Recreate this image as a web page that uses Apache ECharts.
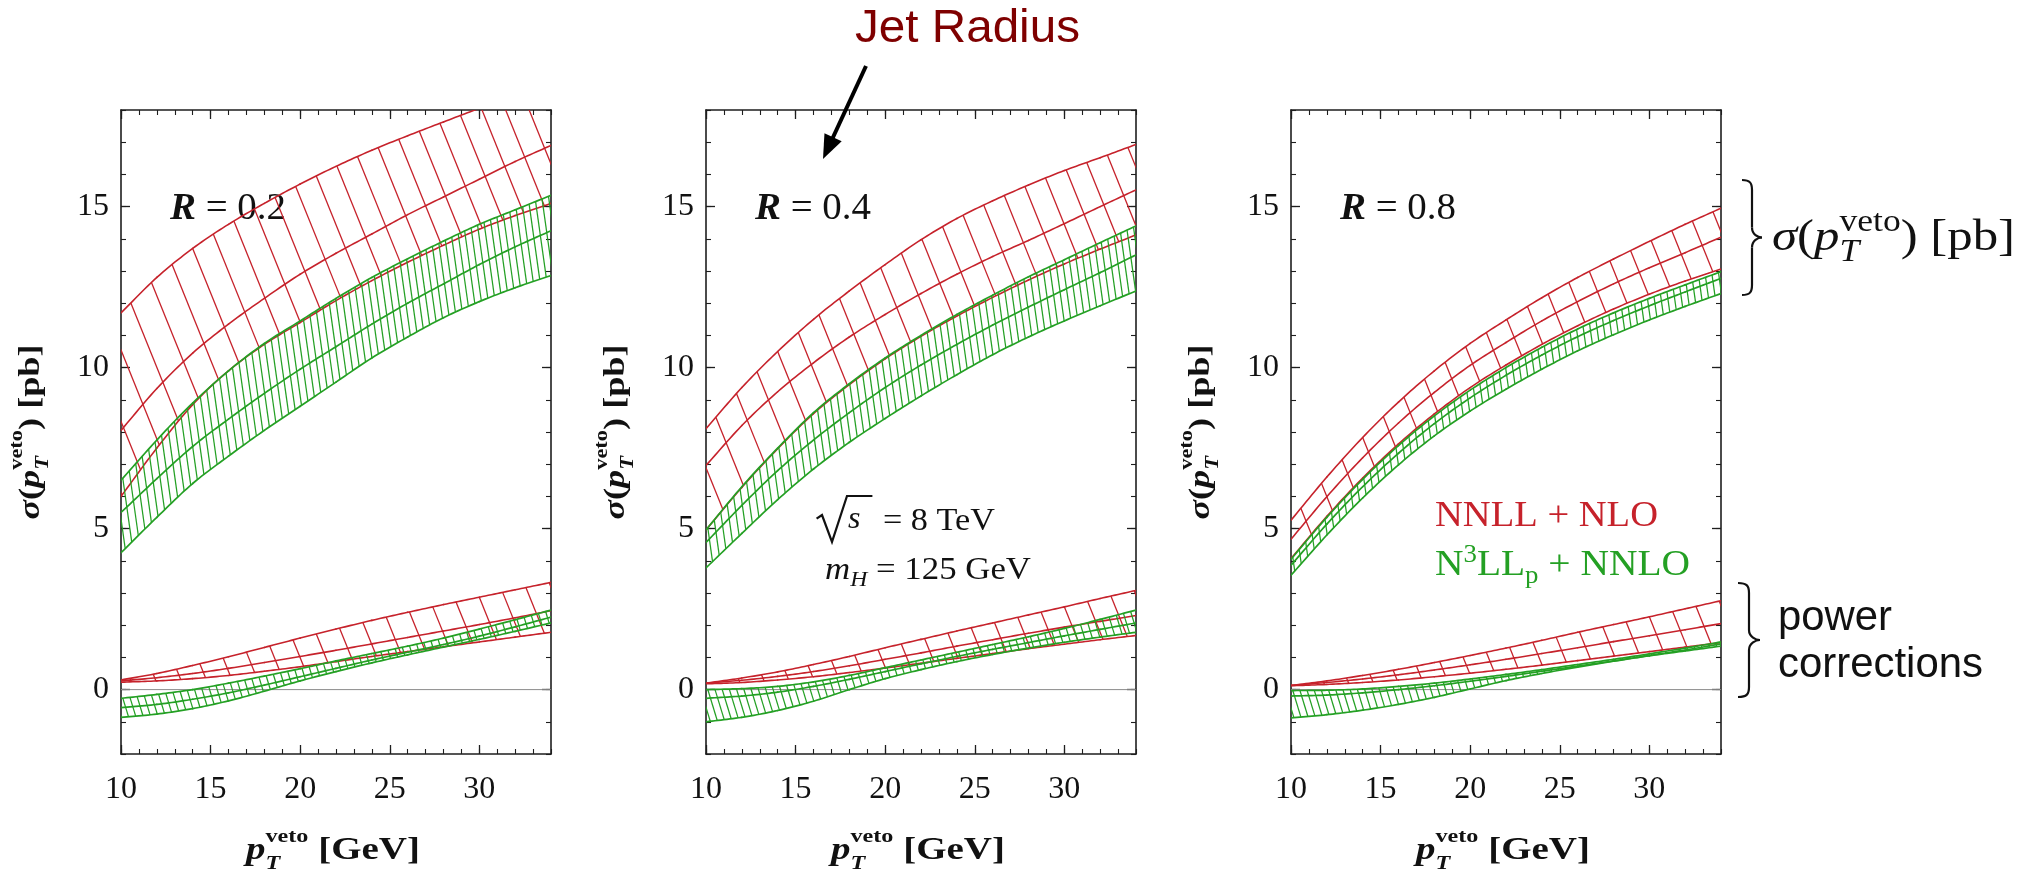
<!DOCTYPE html>
<html>
<head>
<meta charset="utf-8">
<script src="https://cdn.jsdelivr.net/npm/echarts@6/dist/echarts.min.js"></script>
<style>
html,body{margin:0;padding:0;background:#ffffff;}
#chart{width:2026px;height:875px;}
</style>
</head>
<body>
<div id="chart"></div>
<script>
// ---------------- DATA ----------------
const pT = [10, 12, 14, 16, 18, 20, 22, 24, 26, 28, 30, 32, 34];
const xTickLabels = [10, 15, 20, 25, 30];
const yTickLabels = [0, 5, 10, 15];

// R = 0.2
const r02_nnll_hi  = [11.7, 12.8, 13.7, 14.45, 15.1, 15.7, 16.25, 16.75, 17.2, 17.63, 18.05, 18.45, 18.82];
const r02_nnll_mid = [8.05, 9.35, 10.45, 11.35, 12.15, 12.9, 13.55, 14.15, 14.75, 15.3, 15.85, 16.4, 16.9];
const r02_nnll_lo  = [6.0, 7.5, 8.85, 9.9, 10.72, 11.4, 12.08, 12.7, 13.27, 13.8, 14.3, 14.72, 15.1];
const r02_n3ll_hi  = [6.5, 7.75, 8.9, 9.9, 10.75, 11.45, 12.15, 12.8, 13.38, 13.93, 14.45, 14.9, 15.35];
const r02_n3ll_mid = [5.5, 6.55, 7.55, 8.4, 9.2, 9.95, 10.65, 11.35, 12.0, 12.6, 13.2, 13.75, 14.25];
const r02_n3ll_lo  = [4.25, 5.35, 6.4, 7.25, 8.05, 8.8, 9.55, 10.3, 10.95, 11.55, 12.05, 12.48, 12.86];
const r02_pc_nnll_hi  = [0.3, 0.5, 0.75, 1.02, 1.31, 1.6, 1.88, 2.15, 2.4, 2.64, 2.87, 3.1, 3.33];
const r02_pc_nnll_mid = [0.27, 0.37, 0.5, 0.66, 0.84, 1.03, 1.22, 1.42, 1.62, 1.82, 2.02, 2.23, 2.45];
const r02_pc_nnll_lo  = [0.23, 0.27, 0.34, 0.44, 0.57, 0.71, 0.87, 1.03, 1.18, 1.33, 1.48, 1.63, 1.78];
const r02_pc_n3ll_hi  = [-0.27, -0.15, 0.0, 0.2, 0.42, 0.65, 0.89, 1.12, 1.35, 1.6, 1.88, 2.17, 2.47];
const r02_pc_n3ll_mid = [-0.56, -0.46, -0.3, -0.1, 0.14, 0.4, 0.66, 0.92, 1.16, 1.4, 1.66, 1.95, 2.25];
const r02_pc_n3ll_lo  = [-0.86, -0.76, -0.59, -0.35, -0.05, 0.27, 0.56, 0.83, 1.08, 1.32, 1.56, 1.81, 2.07];

// R = 0.4
const r04_nnll_hi  = [8.1, 9.38, 10.5, 11.5, 12.38, 13.2, 13.97, 14.63, 15.18, 15.67, 16.12, 16.52, 16.93];
const r04_nnll_mid = [6.96, 8.2, 9.25, 10.15, 10.95, 11.65, 12.3, 12.9, 13.45, 13.95, 14.47, 15.0, 15.52];
const r04_nnll_lo  = [4.96, 6.28, 7.48, 8.57, 9.47, 10.27, 10.97, 11.6, 12.18, 12.72, 13.22, 13.68, 14.12];
const r04_n3ll_hi  = [4.96, 6.3, 7.5, 8.6, 9.5, 10.3, 11.0, 11.65, 12.25, 12.82, 13.35, 13.88, 14.4];
const r04_n3ll_mid = [4.57, 5.72, 6.8, 7.75, 8.6, 9.38, 10.08, 10.72, 11.32, 11.88, 12.42, 12.95, 13.5];
const r04_n3ll_lo  = [3.78, 4.85, 5.9, 6.85, 7.68, 8.42, 9.12, 9.78, 10.4, 10.95, 11.45, 11.92, 12.38];
const r04_pc_nnll_hi  = [0.2, 0.36, 0.55, 0.78, 1.03, 1.3, 1.56, 1.82, 2.07, 2.32, 2.57, 2.83, 3.08];
const r04_pc_nnll_mid = [0.2, 0.29, 0.41, 0.56, 0.74, 0.94, 1.14, 1.35, 1.55, 1.75, 1.94, 2.12, 2.3];
const r04_pc_nnll_lo  = [0.18, 0.22, 0.3, 0.4, 0.53, 0.67, 0.82, 0.97, 1.12, 1.27, 1.41, 1.55, 1.68];
const r04_pc_n3ll_hi  = [0.0, 0.03, 0.1, 0.24, 0.44, 0.68, 0.92, 1.16, 1.4, 1.64, 1.9, 2.18, 2.47];
const r04_pc_n3ll_mid = [-0.27, -0.2, -0.08, 0.1, 0.32, 0.56, 0.8, 1.03, 1.25, 1.46, 1.67, 1.87, 2.07];
const r04_pc_n3ll_lo  = [-1.0, -0.86, -0.65, -0.36, 0.0, 0.34, 0.62, 0.87, 1.09, 1.29, 1.47, 1.63, 1.78];

// R = 0.8
const r08_nnll_hi  = [5.26, 6.6, 7.83, 8.93, 9.9, 10.75, 11.48, 12.17, 12.8, 13.37, 13.92, 14.45, 14.95];
const r08_nnll_mid = [4.67, 5.99, 7.2, 8.28, 9.23, 10.07, 10.78, 11.45, 12.05, 12.6, 13.1, 13.57, 14.05];
const r08_nnll_lo  = [4.07, 5.38, 6.57, 7.63, 8.56, 9.38, 10.08, 10.72, 11.3, 11.82, 12.28, 12.69, 13.06];
const r08_n3ll_hi  = [4.05, 5.35, 6.53, 7.58, 8.5, 9.3, 10.0, 10.63, 11.2, 11.7, 12.15, 12.57, 12.98];
const r08_n3ll_mid = [3.86, 5.14, 6.3, 7.34, 8.26, 9.06, 9.76, 10.39, 10.96, 11.46, 11.92, 12.35, 12.77];
const r08_n3ll_lo  = [3.55, 4.8, 5.95, 6.98, 7.88, 8.65, 9.33, 9.95, 10.52, 11.02, 11.48, 11.9, 12.3];
const r08_pc_nnll_hi  = [0.13, 0.27, 0.44, 0.63, 0.84, 1.06, 1.29, 1.53, 1.78, 2.02, 2.26, 2.51, 2.76];
const r08_pc_nnll_mid = [0.13, 0.22, 0.33, 0.46, 0.61, 0.77, 0.94, 1.12, 1.3, 1.49, 1.67, 1.86, 2.05];
const r08_pc_nnll_lo  = [0.12, 0.16, 0.22, 0.3, 0.4, 0.51, 0.63, 0.76, 0.9, 1.04, 1.18, 1.32, 1.46];
const r08_pc_n3ll_hi  = [-0.03, -0.02, 0.02, 0.1, 0.2, 0.33, 0.47, 0.62, 0.78, 0.94, 1.11, 1.29, 1.48];
const r08_pc_n3ll_mid = [-0.2, -0.17, -0.1, 0.0, 0.12, 0.26, 0.41, 0.57, 0.73, 0.89, 1.06, 1.23, 1.42];
const r08_pc_n3ll_lo  = [-0.88, -0.78, -0.64, -0.46, -0.24, 0.02, 0.28, 0.5, 0.7, 0.88, 1.05, 1.2, 1.35];

const radiusLabels = ['0.2', '0.4', '0.8'];

// ---------------- STYLE / LAYOUT ----------------
const RED = '#c6222b';
const GREEN = '#24a024';
const SERIF = '"Liberation Serif"';
const SANS = '"Liberation Sans"';
const lefts = [121, 706, 1291];
const TOP = 110, W = 430, H = 644;

const panels = [
  { nnll: [r02_nnll_lo, r02_nnll_mid, r02_nnll_hi], n3ll: [r02_n3ll_lo, r02_n3ll_mid, r02_n3ll_hi],
    pcN: [r02_pc_nnll_lo, r02_pc_nnll_mid, r02_pc_nnll_hi], pcN3: [r02_pc_n3ll_lo, r02_pc_n3ll_mid, r02_pc_n3ll_hi] },
  { nnll: [r04_nnll_lo, r04_nnll_mid, r04_nnll_hi], n3ll: [r04_n3ll_lo, r04_n3ll_mid, r04_n3ll_hi],
    pcN: [r04_pc_nnll_lo, r04_pc_nnll_mid, r04_pc_nnll_hi], pcN3: [r04_pc_n3ll_lo, r04_pc_n3ll_mid, r04_pc_n3ll_hi] },
  { nnll: [r08_nnll_lo, r08_nnll_mid, r08_nnll_hi], n3ll: [r08_n3ll_lo, r08_n3ll_mid, r08_n3ll_hi],
    pcN: [r08_pc_nnll_lo, r08_pc_nnll_mid, r08_pc_nnll_hi], pcN3: [r08_pc_n3ll_lo, r08_pc_n3ll_mid, r08_pc_n3ll_hi] }
];

// Catmull-Rom spline through the read points (rendering only)
function spline(arr, x) {
  const n = pT.length, h = pT[1] - pT[0];
  if (x <= pT[0]) return arr[0] + (x - pT[0]) * (arr[1] - arr[0]) / h;
  if (x >= pT[n - 1]) return arr[n - 1] + (x - pT[n - 1]) * (arr[n - 1] - arr[n - 2]) / h;
  const i = Math.min(n - 2, Math.floor((x - pT[0]) / h));
  const t = (x - pT[i]) / h;
  const p1 = arr[i], p2 = arr[i + 1];
  const p0 = i > 0 ? arr[i - 1] : 2 * p1 - p2;
  const p3 = i < n - 2 ? arr[i + 2] : 2 * p2 - p1;
  return 0.5 * (2 * p1 + (-p0 + p2) * t + (2 * p0 - 5 * p1 + 4 * p2 - p3) * t * t + (-p0 + 3 * p1 - 3 * p2 + p3) * t * t * t);
}

function makeRender(band) {
  return function (params, api) {
    const n = pT.length, i = params.dataIndex;
    if (i >= n - 1) return { type: 'group', children: [] };
    const o = api.coord([pT[0], 0]), o2 = api.coord([pT[0] + 1, 1]);
    const X0 = o[0], Y0 = o[1], ax = o2[0] - X0, ay = o2[1] - Y0;
    const P = (x, v) => [X0 + ax * (x - pT[0]), Y0 + ay * v];
    const kids = [];
    const xa = pT[i], xb = pT[i + 1];
    const th = band.angle * Math.PI / 180, sx = Math.sin(th), sy = Math.cos(th);
    for (let k = -40; k < 400; k++) {
      const xo = pT[0] + band.phase + k * band.step;
      if (xo < pT[0] - 8) continue;
      if (xo >= pT[n - 1]) break;
      let seg = Math.floor((xo - pT[0]) / (pT[1] - pT[0]));
      seg = Math.max(0, Math.min(n - 2, seg));
      if (seg !== i) continue;
      const p = P(xo, spline(band.hi, xo));
      let a = 0, b = 900;
      for (let it = 0; it < 40; it++) {
        const m = (a + b) / 2;
        const qx = p[0] + m * sx, qy = p[1] + m * sy;
        const yb = Y0 + ay * spline(band.lo, pT[0] + (qx - X0) / ax);
        if (qy < yb) a = m; else b = m;
      }
      kids.push({ type: 'line', shape: { x1: p[0], y1: p[1], x2: p[0] + a * sx, y2: p[1] + a * sy },
        style: { stroke: band.color, lineWidth: band.hatchW } });
    }
    [band.lo, band.hi, band.mid].forEach(arr => {
      const pts = [];
      for (let s = 0; s <= 12; s++) { const x = xa + (xb - xa) * s / 12; pts.push(P(x, spline(arr, x))); }
      kids.push({ type: 'polyline', shape: { points: pts },
        style: { stroke: band.color, lineWidth: band.edgeW, fill: null, lineCap: 'round', lineJoin: 'round' } });
    });
    return { type: 'group', children: kids };
  };
}

const xMinor = [], yMinor = [];
for (let v = 10; v <= 34; v++) xMinor.push(v);
for (let v = -2; v <= 18; v++) yMinor.push(v);

const grid = [], xAxis = [], yAxis = [], series = [];
const axisCol = '#1e1e1e';
lefts.forEach((l, g) => {
  grid.push({ left: l, top: TOP, width: W, height: H });
  const xBase = { gridIndex: g, type: 'value', min: 10, max: 34, splitLine: { show: false } };
  const yBase = { gridIndex: g, type: 'value', min: -2, max: 18, splitLine: { show: false } };
  const line = { show: true, onZero: false, lineStyle: { color: axisCol, width: 1.6 } };
  const noLine = { show: false, onZero: false };
  const major = (vals) => ({ show: true, inside: true, length: 9, customValues: vals, lineStyle: { color: axisCol, width: 1.3 } });
  const minor = (vals) => ({ show: true, inside: true, length: 5, customValues: vals, lineStyle: { color: axisCol, width: 1.1 } });
  xAxis.push(Object.assign({}, xBase, { position: 'bottom', axisLine: line, axisTick: major(xTickLabels),
    axisLabel: { show: true, customValues: xTickLabels, margin: 20, fontFamily: SERIF, fontSize: 32, color: '#111' } }));
  xAxis.push(Object.assign({}, xBase, { position: 'bottom', axisLine: noLine, axisTick: minor(xMinor), axisLabel: { show: false } }));
  xAxis.push(Object.assign({}, xBase, { position: 'top', axisLine: line, axisTick: major(xTickLabels), axisLabel: { show: false } }));
  xAxis.push(Object.assign({}, xBase, { position: 'top', axisLine: noLine, axisTick: minor(xMinor), axisLabel: { show: false } }));
  yAxis.push(Object.assign({}, yBase, { position: 'left', axisLine: line, axisTick: major(yTickLabels),
    axisLabel: { show: true, customValues: yTickLabels, margin: 12, fontFamily: SERIF, fontSize: 32, color: '#111' } }));
  yAxis.push(Object.assign({}, yBase, { position: 'left', axisLine: noLine, axisTick: minor(yMinor), axisLabel: { show: false } }));
  yAxis.push(Object.assign({}, yBase, { position: 'right', axisLine: line, axisTick: major(yTickLabels), axisLabel: { show: false } }));
  yAxis.push(Object.assign({}, yBase, { position: 'right', axisLine: noLine, axisTick: minor(yMinor), axisLabel: { show: false } }));

  const xi = g * 4, yi = g * 4;
  series.push({ type: 'line', xAxisIndex: xi, yAxisIndex: yi, silent: true, symbol: 'none', z: 1,
    data: [[pT[0], 0], [pT[pT.length - 1], 0]], lineStyle: { color: '#8c8c8c', width: 1 } });
  const p = panels[g];
  const bands = [
    { arr: p.nnll, color: RED, step: 1.15, angle: 22, phase: 0.55, edgeW: 1.6, hatchW: 1.3 },
    { arr: p.pcN, color: RED, step: 1.3, angle: 22, phase: 0.5, edgeW: 1.6, hatchW: 1.3 },
    { arr: p.n3ll, color: GREEN, step: 0.36, angle: 8, phase: 0.1, edgeW: 1.7, hatchW: 1.25 },
    { arr: p.pcN3, color: GREEN, step: 0.4, angle: 17, phase: 0.1, edgeW: 1.7, hatchW: 1.25 }
  ];
  bands.forEach((b, bi) => {
    const band = { lo: b.arr[0], mid: b.arr[1], hi: b.arr[2], color: b.color, step: b.step, angle: b.angle,
      phase: b.phase, edgeW: b.edgeW, hatchW: b.hatchW };
    series.push({ type: 'custom', coordinateSystem: 'cartesian2d', xAxisIndex: xi, yAxisIndex: yi,
      silent: true, clip: true, z: 2 + bi, renderItem: makeRender(band),
      encode: { x: 0, y: [1, 2, 3] },
      data: pT.map((x, k) => [x, band.lo[k], band.mid[k], band.hi[k]]) });
  });
});

// ---------------- TEXT HELPERS ----------------
const mctx = document.createElement('canvas').getContext('2d');
function fontOf(size, italic, bold, family) {
  return (italic ? 'italic ' : '') + (bold ? 'bold ' : '') + size + 'px ' + family;
}
function mathGroup(parts, opt) {
  let cx = 0, lastX = 0, lastW = 0;
  const kids = [];
  const mid = opt.mid || 0.34;
  parts.forEach(p => {
    const size = opt.size * (p.s || 1);
    const f = fontOf(size, p.i, p.b !== undefined ? p.b : opt.bold, opt.family);
    mctx.font = f;
    const w = mctx.measureText(p.t).width;
    const x = p.stack ? lastX : cx;
    kids.push({ type: 'text', x: x, y: (p.dy || 0) * opt.size - mid * size,
      style: { text: p.t, font: f, fill: p.c || opt.color || '#111', textAlign: 'left', textVerticalAlign: 'middle' } });
    if (p.stack) cx = lastX + Math.max(lastW, w);
    else { lastX = x; lastW = w; cx = x + w; }
  });
  const total = cx;
  const sc = opt.target ? opt.target / total : 1;
  if (opt.anchor === 'center') kids.forEach(k => { k.x -= total / 2; });
  return { type: 'group', x: opt.x, y: opt.y, scaleX: sc, scaleY: 1, rotation: opt.rotation || 0, children: kids, z: 100, silent: true };
}
function brace(x0, yTop, yBot, xMid, xTip) {
  const yc = (yTop + yBot) / 2, r = 10;
  const st = { stroke: '#111', lineWidth: 2.2, fill: null };
  return { type: 'group', z: 100, silent: true, children: [
    { type: 'bezierCurve', shape: { x1: x0, y1: yTop, cpx1: xMid - 2, cpy1: yTop, cpx2: xMid, cpy2: yTop + 3, x2: xMid, y2: yTop + r }, style: st },
    { type: 'line', shape: { x1: xMid, y1: yTop + r, x2: xMid, y2: yc - r }, style: st },
    { type: 'bezierCurve', shape: { x1: xMid, y1: yc - r, cpx1: xMid, cpy1: yc - 3, cpx2: xTip - 4, cpy2: yc, x2: xTip, y2: yc }, style: st },
    { type: 'bezierCurve', shape: { x1: xTip, y1: yc, cpx1: xTip - 4, cpy1: yc, cpx2: xMid, cpy2: yc + 3, x2: xMid, y2: yc + r }, style: st },
    { type: 'line', shape: { x1: xMid, y1: yc + r, x2: xMid, y2: yBot - r }, style: st },
    { type: 'bezierCurve', shape: { x1: xMid, y1: yBot - r, cpx1: xMid, cpy1: yBot - 3, cpx2: xMid - 2, cpy2: yBot, x2: x0, y2: yBot }, style: st }
  ] };
}

const graphic = [];
lefts.forEach((l, g) => {
  graphic.push(mathGroup([{ t: 'R', i: true, b: true }, { t: ' = ' + radiusLabels[g] }],
    { x: l + 49, y: 222, size: 38, family: SERIF, target: 116 }));
  graphic.push(mathGroup([{ t: 'p', i: true }, { t: 'T', i: true, s: 0.62, dy: 0.28 }, { t: 'veto', s: 0.62, dy: -0.58, stack: true },
    { t: ' [GeV]' }], { x: l + 212, y: 862, size: 32, family: SERIF, bold: true, anchor: 'center', target: 174 }));
  graphic.push(mathGroup([{ t: 'σ', i: true }, { t: '(' }, { t: 'p', i: true }, { t: 'T', i: true, s: 0.62, dy: 0.28 },
    { t: 'veto', s: 0.62, dy: -0.58, stack: true }, { t: ') [pb]' }],
    { x: l - 80, y: 432, size: 30, family: SERIF, bold: true, anchor: 'center', rotation: Math.PI / 2, target: 175 }));
});

graphic.push({ type: 'polyline', z: 100, silent: true,
  shape: { points: [[816.6, 518.6], [822, 515], [832, 541.8], [847, 496], [872.4, 496]] },
  style: { stroke: '#111', lineWidth: 2.2, fill: null } });
graphic.push(mathGroup([{ t: 's', i: true }], { x: 848, y: 530, size: 32, family: SERIF }));
graphic.push(mathGroup([{ t: '= 8 TeV' }], { x: 883, y: 532, size: 31, family: SERIF, target: 112 }));
graphic.push(mathGroup([{ t: 'm', i: true }, { t: 'H', i: true, s: 0.68, dy: 0.22 }, { t: ' = 125 GeV' }],
  { x: 825, y: 581, size: 31, family: SERIF, target: 206 }));

graphic.push(mathGroup([{ t: 'NNLL + NLO' }], { x: 1435, y: 529, size: 36, family: SERIF, color: RED, target: 223 }));
graphic.push(mathGroup([{ t: 'N' }, { t: '3', s: 0.68, dy: -0.4 }, { t: 'LL' }, { t: 'p', s: 0.68, dy: 0.2 }, { t: ' + NNLO' }],
  { x: 1435, y: 578, size: 36, family: SERIF, color: GREEN, target: 255 }));

graphic.push(mathGroup([{ t: 'Jet Radius' }], { x: 855, y: 45, size: 46, family: SANS, color: '#7f0000', mid: 0.35, target: 225 }));
(function () {
  const sx = 866, sy = 66, tx = 823, ty = 159;
  const dx = tx - sx, dy = ty - sy, L = Math.hypot(dx, dy), ux = dx / L, uy = dy / L;
  const hl = 24, hw = 9.5, bx = tx - hl * ux, by = ty - hl * uy;
  graphic.push({ type: 'line', z: 100, silent: true, shape: { x1: sx, y1: sy, x2: bx + ux * 2, y2: by + uy * 2 },
    style: { stroke: '#000', lineWidth: 4 } });
  graphic.push({ type: 'polygon', z: 100, silent: true,
    shape: { points: [[tx, ty], [bx - hw * uy, by + hw * ux], [bx + hw * uy, by - hw * ux]] },
    style: { fill: '#000' } });
})();

graphic.push(brace(1742, 180, 295, 1752, 1762));
graphic.push(brace(1738, 583, 697, 1749, 1760));
graphic.push(mathGroup([{ t: 'σ', i: true }, { t: '(' }, { t: 'p', i: true }, { t: 'T', i: true, s: 0.7, dy: 0.23 },
  { t: 'veto', s: 0.7, dy: -0.45, stack: true }, { t: ') [pb]' }],
  { x: 1772, y: 253, size: 44, family: SERIF, target: 243 }));
graphic.push(mathGroup([{ t: 'power' }], { x: 1778, y: 633, size: 42, family: SANS, mid: 0.35, target: 114 }));
graphic.push(mathGroup([{ t: 'corrections' }], { x: 1778, y: 680, size: 42, family: SANS, mid: 0.35, target: 205 }));

const chart = echarts.init(document.getElementById('chart'), null, { renderer: 'canvas', width: 2026, height: 875 });
chart.setOption({
  animation: false,
  backgroundColor: '#ffffff',
  grid: grid,
  xAxis: xAxis,
  yAxis: yAxis,
  series: series,
  graphic: graphic
});
</script>
</body>
</html>
